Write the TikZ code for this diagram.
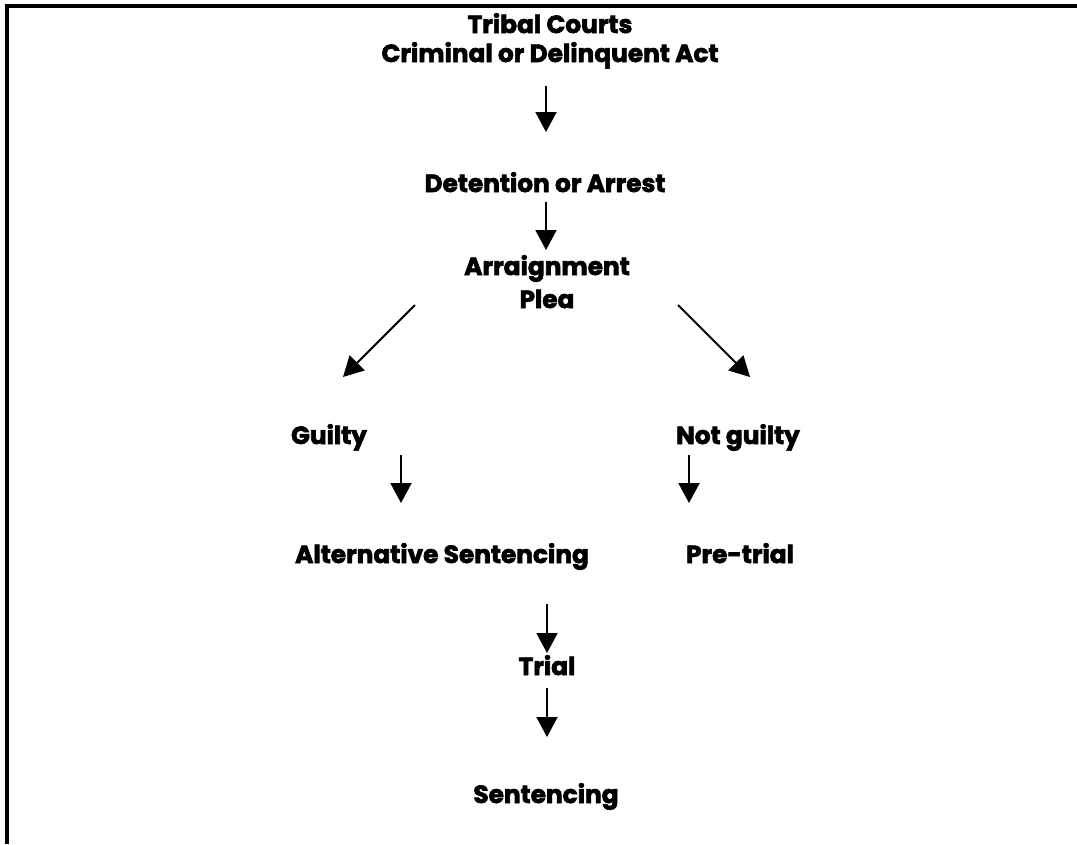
\documentclass[tikz,border=0pt]{standalone}
\usepackage{fontspec}
\setmainfont{Poppins}[BoldFeatures={FakeBold=2.6}]
\usetikzlibrary{arrows.meta,calc}
\begin{document}
\begin{tikzpicture}[x=1pt,y=-1pt,
  lbl/.style={inner sep=0pt,anchor=base,font=\fontsize{24.8}{28}\selectfont\bfseries},
  arr/.style={line width=2pt,-{Triangle[width=21pt,length=20pt]}},
  frame/.style={line width=4pt}]
\useasboundingbox (0,0) rectangle (1077,844);
\draw[frame] (7,844) -- (7,6) -- (1077,6);
\node[lbl] (t1) at (550,33) {Tribal Courts};
\node[lbl] (t2) at (550,62) {Criminal or Delinquent Act};
\node[lbl] (det) at (545,192) {Detention or Arrest};
\node[lbl] (arg) at (547,275) {Arraignment};
\node[lbl] (plea) at (547,308) {Plea};
\node[lbl] (guilty) at (329,444) {Guilty};
\node[lbl] (ng) at (738,444) {Not guilty};
\node[lbl] (alt) at (442,563) {Alternative Sentencing};
\node[lbl] (pre) at (740,563) {Pre-trial};
\node[lbl] (trial) at (547,675) {Trial};
\node[lbl] (sent) at (546,803) {Sentencing};
\draw[arr] ($(t2.base)+(-4,24)$) -- ($(det.base)+(1,-60)$);
\draw[arr] ($(det.base)+(1,10)$) -- ($(arg.base)+(-1,-25)$);
\draw[arr] ($(plea.base)+(-132,-3)$) -- ($(guilty.base)+(14,-67)$);
\draw[arr] ($(plea.base)+(131,-3)$) -- ($(ng.base)+(12,-67)$);
\draw[arr] ($(guilty.base)+(72,11)$) -- ($(alt.base)+(-41,-60)$);
\draw[arr] ($(ng.base)+(-49,11)$) -- ($(pre.base)+(-51,-60)$);
\draw[arr] ($(alt.base)+(105,41)$) -- ($(trial.base)+(0,-22)$);
\draw[arr] ($(trial.base)+(0,13)$) -- ($(sent.base)+(1,-66)$);
\end{tikzpicture}
\end{document}
